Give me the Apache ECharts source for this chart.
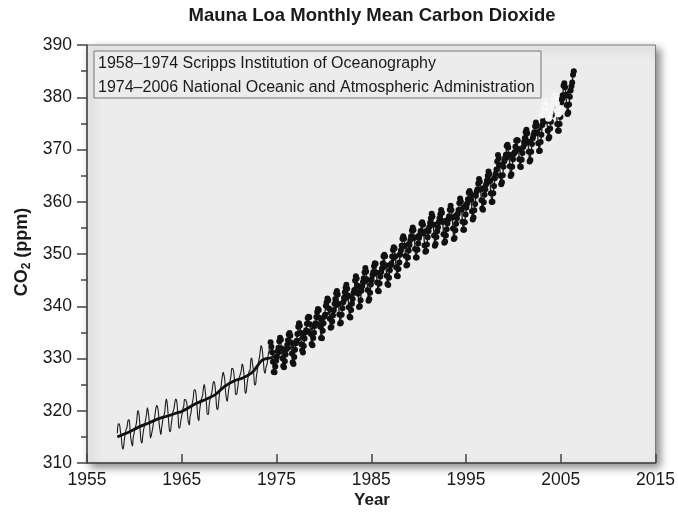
<!DOCTYPE html>
<html>
<head>
<meta charset="utf-8">
<script src="https://cdn.jsdelivr.net/npm/echarts@6/dist/echarts.min.js"></script>
<style>
  html, body { margin: 0; padding: 0; background: #fff; }
  #chart { width: 678px; height: 514px; }
</style>
</head>
<body>
<div id="chart"></div>
<script>
// Axis ranges and tick labels
const yearTicks = [1955, 1965, 1975, 1985, 1995, 2005, 2015];
const ppmTicks = [310, 320, 330, 340, 350, 360, 370, 380, 390];

// Scripps monthly means, March 1958 – April 1974 (ppm)
const scrippsStart = [1958, 3];
const scrippsCO2 = [
  315.71, 317.45, 317.50, 317.10, 315.86, 314.93, 313.20, 312.66, 313.33, 314.67,
  315.62, 316.38, 316.71, 317.72, 318.29, 318.15, 316.54, 314.80, 313.84, 313.26, 314.80, 315.58,
  316.43, 316.97, 317.58, 319.02, 320.03, 319.59, 318.18, 315.91, 314.16, 313.83, 315.00, 316.19,
  316.93, 317.70, 318.54, 319.48, 320.58, 319.77, 318.57, 316.79, 314.80, 315.38, 316.10, 317.01,
  317.94, 318.56, 319.68, 320.63, 321.01, 320.55, 319.58, 317.40, 316.26, 315.42, 316.69, 317.69,
  318.74, 319.08, 319.86, 321.39, 322.25, 321.47, 319.74, 317.77, 316.21, 315.99, 317.12, 318.31,
  319.57, 320.07, 320.73, 321.77, 322.25, 321.89, 320.44, 318.70, 316.70, 316.79, 317.79, 318.71,
  319.44, 320.44, 320.89, 322.13, 322.16, 321.87, 321.39, 318.81, 317.81, 317.30, 318.87, 319.42,
  320.62, 321.59, 322.39, 323.87, 324.01, 323.75, 322.39, 320.37, 318.64, 318.10, 319.79, 321.08,
  322.07, 322.50, 323.04, 324.42, 325.00, 324.09, 322.55, 320.92, 319.31, 319.31, 320.72, 321.96,
  322.57, 323.15, 323.89, 325.02, 325.57, 325.36, 324.14, 322.03, 320.41, 320.25, 321.31, 322.84,
  324.00, 324.42, 325.64, 326.66, 327.34, 326.76, 325.88, 323.67, 322.38, 321.78, 322.85, 324.11,
  325.03, 325.99, 326.87, 328.13, 328.07, 327.66, 326.35, 324.69, 323.10, 323.16, 323.98, 325.13,
  326.17, 326.68, 327.18, 327.78, 328.92, 328.57, 327.34, 325.46, 323.36, 323.57, 324.80, 326.01,
  326.77, 327.63, 327.75, 329.72, 330.07, 329.09, 328.05, 326.32, 324.93, 325.06, 326.50, 327.55,
  328.54, 329.56, 330.30, 331.50, 332.48, 332.07, 330.87, 329.31, 327.51, 327.18, 328.16, 328.64,
  329.35, 330.71, 331.48, 332.65
];

// NOAA monthly means, May 1974 – May 2006 (ppm)
const noaaStart = [1974, 5];
const noaaCO2 = [
  333.09, 332.25, 331.18, 329.40, 327.43, 327.37, 328.46, 329.57,
  330.40, 331.40, 332.04, 333.31, 333.96, 333.59, 331.91, 330.06, 328.56, 328.34, 329.49, 330.76,
  331.75, 332.56, 333.50, 334.58, 334.87, 334.34, 333.05, 330.94, 329.30, 328.94, 330.31, 331.68,
  332.93, 333.42, 334.70, 336.07, 336.74, 336.27, 334.93, 332.75, 331.58, 331.16, 332.40, 333.85,
  334.97, 335.39, 336.64, 337.76, 338.01, 337.89, 336.54, 334.68, 332.76, 332.54, 333.92, 334.95,
  336.23, 336.76, 337.96, 338.89, 339.47, 339.29, 337.73, 336.09, 333.91, 333.86, 335.29, 336.73,
  338.01, 338.36, 340.08, 340.77, 341.46, 341.17, 339.56, 337.60, 335.88, 336.01, 337.10, 338.21,
  339.24, 340.48, 341.38, 342.51, 342.91, 342.25, 340.49, 338.43, 336.69, 336.85, 338.36, 339.61,
  340.75, 341.61, 342.70, 343.56, 344.13, 343.35, 342.06, 339.82, 337.97, 337.86, 339.26, 340.49,
  341.38, 342.52, 343.10, 344.94, 345.75, 345.32, 343.99, 342.39, 339.86, 339.99, 341.16, 342.99,
  343.82, 344.63, 345.38, 346.49, 347.34, 346.67, 345.14, 343.11, 341.04, 341.37, 342.60, 344.15,
  345.03, 345.96, 346.56, 347.66, 348.25, 348.14, 346.47, 344.54, 342.95, 342.88, 344.34, 345.67,
  346.56, 347.24, 348.16, 349.58, 349.85, 349.56, 347.84, 345.83, 344.26, 344.09, 345.44, 346.90,
  347.84, 348.18, 349.51, 350.75, 351.30, 351.03, 349.53, 347.47, 345.86, 345.72, 347.13, 348.35,
  349.85, 350.67, 351.58, 352.93, 353.42, 352.92, 351.55, 349.61, 347.80, 347.94, 349.33, 350.68,
  351.71, 352.68, 353.41, 354.49, 355.09, 354.57, 353.05, 350.98, 349.31, 349.35, 350.81, 352.01,
  353.07, 353.68, 354.38, 355.82, 356.08, 355.60, 353.99, 351.64, 350.41, 350.56, 351.84, 353.20,
  354.36, 355.19, 355.99, 356.86, 357.70, 357.16, 355.58, 353.56, 351.58, 351.92, 353.26, 354.34,
  355.13, 356.06, 356.85, 357.62, 358.40, 357.90, 356.13, 353.78, 352.14, 352.41, 353.55, 354.72,
  355.84, 356.62, 357.23, 358.45, 359.23, 358.42, 356.96, 354.90, 352.86, 353.04, 354.55, 355.81,
  356.85, 357.64, 358.43, 359.74, 360.62, 360.04, 358.46, 356.16, 354.63, 354.66, 356.07, 357.55,
  358.88, 359.67, 360.46, 361.70, 362.06, 361.60, 360.38, 358.20, 356.62, 356.97, 358.36, 359.56,
  361.13, 361.96, 362.40, 363.49, 364.37, 363.81, 362.36, 360.28, 358.69, 358.47, 359.90, 361.35,
  362.41, 363.37, 364.06, 364.96, 365.78, 365.24, 363.95, 361.62, 359.97, 360.00, 361.63, 363.03,
  364.51, 365.38, 366.19, 367.72, 368.94, 368.33, 367.01, 364.96, 363.37, 363.74, 365.08, 366.72,
  367.73, 368.43, 368.98, 370.68, 370.93, 370.39, 369.03, 366.78, 364.93, 365.24, 366.69, 368.15,
  369.14, 369.46, 370.51, 371.66, 371.82, 371.70, 370.11, 368.14, 366.75, 366.66, 368.06, 369.33,
  370.46, 371.42, 372.20, 373.32, 373.79, 373.13, 371.50, 369.55, 367.70, 368.01, 369.59, 371.06,
  372.13, 372.75, 373.29, 374.43, 375.18, 374.56, 373.15, 371.19, 369.69, 369.77, 371.43, 372.81,
  374.7, 375.5, 376.2, 377.1, 377.6, 377.1, 375.5, 373.6, 372.1, 372.4, 374.0, 375.3,
  376.6, 377.2, 378.3, 379.1, 378.8, 378.2, 377.0, 374.9, 373.6, 373.6, 374.9, 376.2,
  379.0, 379.7, 380.4, 382.2, 382.7, 381.9, 380.5, 378.5, 376.8, 377.1, 378.6, 380.1,
  381.3, 382.1, 382.8, 384.3, 385.0
];

// Provisional monthly values, January 2003 – November 2004 (ppm)
const provisionalStart = [2003, 1];
const provisionalCO2 = [
  376.6, 377.3, 377.9, 378.8, 379.3, 378.8, 377.6, 376.5, 376.0, 376.3, 377.2, 377.9,
  378.4, 379.0, 379.6, 380.3, 380.5, 379.9, 378.8, 377.5, 376.8, 377.0, 377.9
];

// Deseasonalised trend (ppm)
const trendYear = [1958.2, 1959.5, 1960.5, 1961.5, 1962.5, 1963.5, 1964.5, 1965.0, 1966.5, 1967.5,
  1968.5, 1969.5, 1970.5, 1971.5, 1972.5, 1973.5, 1974.5, 1975.5, 1976.5, 1977.5, 1978.5, 1979.5,
  1980.5, 1981.5, 1982.5, 1983.5, 1984.5, 1985.5, 1986.5, 1987.5, 1988.5, 1989.5, 1990.5, 1991.5,
  1992.5, 1993.5, 1994.5, 1995.5, 1996.5, 1997.5, 1998.5, 1999.5, 2000.5, 2001.5, 2002.5, 2003.5,
  2004.5, 2005.5, 2006.3];
const trendCO2 = [315.0, 315.97, 316.91, 317.64, 318.45, 318.99, 319.62, 319.85, 321.38, 322.16,
  323.04, 324.62, 325.68, 326.32, 327.45, 329.68, 330.18, 331.11, 332.04, 333.83, 335.40, 336.84,
  338.75, 340.11, 341.45, 343.05, 344.65, 346.12, 347.42, 349.19, 351.57, 353.12, 354.39, 355.61,
  356.45, 357.10, 358.83, 360.82, 362.61, 363.73, 366.70, 368.38, 369.55, 371.14, 373.28, 375.4,
  377.0, 380.2, 382.4];

// Pair each monthly value with its mid-month decimal year
function monthly(start, values) {
  return values.map((v, i) => [start[0] + (start[1] - 1 + i + 0.5) / 12, v]);
}
function paired(xs, ys) {
  return xs.map((x, i) => [x, ys[i]]);
}

const FONT = '"Liberation Sans", Arial, Helvetica, sans-serif';
const INK = '#1a1a1a';
const AXIS = '#444';

const chart = echarts.init(document.getElementById('chart'), null, { renderer: 'canvas' });

chart.setOption({
  animation: false,
  backgroundColor: '#ffffff',
  grid: {
    left: 87, right: 21, top: 45, bottom: 51,
    show: true,
    backgroundColor: '#ececec',
    borderColor: '#7a7a7a',
    borderWidth: 1,
    shadowColor: 'rgba(0,0,0,0.45)',
    shadowBlur: 8,
    shadowOffsetX: 4,
    shadowOffsetY: 4
  },
  xAxis: {
    type: 'value',
    min: yearTicks[0],
    max: yearTicks[yearTicks.length - 1],
    interval: 10,
    axisLine: { show: true, onZero: false, lineStyle: { color: AXIS, width: 1.5 } },
    axisTick: { show: true, inside: true, length: 9, lineStyle: { color: AXIS, width: 1.5 } },
    splitLine: { show: false },
    axisLabel: {
      color: INK, fontFamily: FONT, fontSize: 17.5, margin: 8,
      formatter: v => yearTicks.includes(v) ? String(v) : ''
    }
  },
  yAxis: {
    type: 'value',
    min: ppmTicks[0],
    max: ppmTicks[ppmTicks.length - 1],
    interval: 10,
    axisLine: { show: true, onZero: false, lineStyle: { color: AXIS, width: 1.5 } },
    axisTick: { show: true, inside: false, length: 10, lineStyle: { color: AXIS, width: 1.5 } },
    minorTick: { show: true, splitNumber: 2, length: 6, lineStyle: { color: AXIS, width: 1.5 } },
    splitLine: { show: false },
    minorSplitLine: { show: false },
    axisLabel: {
      color: INK, fontFamily: FONT, fontSize: 17.5, margin: 15,
      formatter: v => ppmTicks.includes(v) ? String(v) : ''
    }
  },
  series: [
    {
      name: 'Scripps',
      type: 'line',
      data: monthly(scrippsStart, scrippsCO2),
      showSymbol: false,
      smooth: true,
      lineStyle: { color: '#1c1c1c', width: 1.1 },
      z: 2
    },
    {
      name: 'Trend',
      type: 'line',
      data: paired(trendYear, trendCO2),
      showSymbol: false,
      smooth: 0.3,
      lineStyle: { color: '#111', width: 2.8 },
      z: 3
    },
    {
      name: 'NOAA',
      type: 'line',
      data: monthly(noaaStart, noaaCO2),
      symbol: 'circle',
      symbolSize: 6,
      itemStyle: { color: '#111' },
      lineStyle: { color: '#222', width: 1.4 },
      z: 4
    },
    {
      name: 'Provisional',
      type: 'line',
      data: monthly(provisionalStart, provisionalCO2),
      symbol: 'emptyCircle',
      symbolSize: 5,
      itemStyle: { color: '#f2f2f2', borderColor: '#8f8f8f', borderWidth: 1 },
      lineStyle: { color: '#a5a5a5', width: 1 },
      z: 5
    }
  ],
  graphic: [
    {
      type: 'text', z: 10, x: 372, y: 16,
      style: {
        text: 'Mauna Loa Monthly Mean Carbon Dioxide',
        font: 'bold 18.5px ' + FONT, fill: INK,
        align: 'center', verticalAlign: 'middle'
      }
    },
    {
      type: 'rect', z: 10,
      shape: { x: 94, y: 51, width: 447, height: 47 },
      style: { fill: '#ececec', stroke: '#777', lineWidth: 1 }
    },
    {
      type: 'text', z: 11, x: 98, y: 64,
      style: {
        text: '1958–1974 Scripps Institution of Oceanography',
        font: '16px ' + FONT, fill: INK, verticalAlign: 'middle'
      }
    },
    {
      type: 'text', z: 11, x: 98, y: 88,
      style: {
        text: '1974–2006 National Oceanic and Atmospheric Administration',
        font: '16px ' + FONT, fill: INK, verticalAlign: 'middle'
      }
    },
    {
      type: 'text', z: 10, x: 372, y: 500,
      style: {
        text: 'Year', font: 'bold 17px ' + FONT, fill: INK,
        align: 'center', verticalAlign: 'middle'
      }
    },
    {
      type: 'text', z: 10, x: 22, y: 252, rotation: Math.PI / 2,
      style: {
        text: '{b|CO}{s|2}{b| (ppm)}',
        align: 'center', verticalAlign: 'middle',
        rich: {
          b: { font: 'bold 18px ' + FONT, fill: INK },
          s: { font: 'bold 12px ' + FONT, fill: INK, padding: [9, 0, 0, 0] }
        }
      }
    }
  ]
});
</script>
</body>
</html>
